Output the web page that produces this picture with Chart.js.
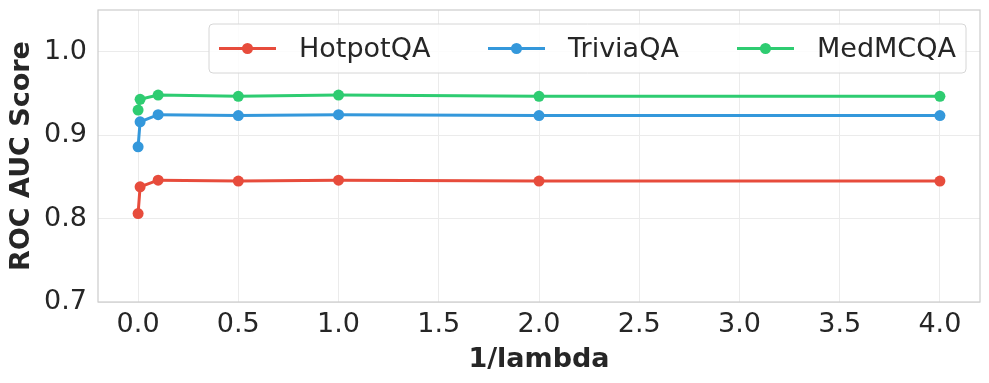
<!DOCTYPE html>
<html>
<head>
<meta charset="utf-8">
<script src="https://cdn.jsdelivr.net/npm/chart.js@4.4.0/dist/chart.umd.min.js"></script>
<style>
html,body{margin:0;padding:0;background:#fff;}
#wrap{width:989px;height:383px;position:relative;}
</style>
</head>
<body>
<div id="wrap"><canvas id="c" width="989" height="383"></canvas></div>
<script>
const xValues = [0, 0.01, 0.1, 0.5, 1.0, 2.0, 4.0];
const hotpotQA = [0.806, 0.838, 0.846, 0.845, 0.846, 0.845, 0.845];
const triviaQA = [0.886, 0.916, 0.9245, 0.9235, 0.9245, 0.9235, 0.9235];
const medMCQA = [0.930, 0.943, 0.948, 0.9465, 0.948, 0.9465, 0.9465];
const seriesNames = ['HotpotQA', 'TriviaQA', 'MedMCQA'];
const seriesColors = ['#e74c3c', '#3498db', '#2ecc71'];
const xTicks = [0, 0.5, 1.0, 1.5, 2.0, 2.5, 3.0, 3.5, 4.0];
const yTicks = [0.7, 0.8, 0.9, 1.0];

const FONT = 'DejaVu Sans';
const TXT = '#262626';
const GRID = '#ebebeb';
const FRAME = '#cccccc';

function mk(name, data, color) {
  return {
    label: name,
    data: xValues.map((x, i) => ({x: x, y: data[i]})),
    borderColor: color,
    backgroundColor: color,
    pointBackgroundColor: color,
    pointBorderColor: color,
    borderWidth: 3,
    pointRadius: 5.5,
    pointHoverRadius: 5.5,
    pointBorderWidth: 0,
    tension: 0,
    fill: false
  };
}

const frameAndLegend = {
  id: 'frameAndLegend',
  afterDraw(chart) {
    const ctx = chart.ctx;
    const a = chart.chartArea;
    ctx.save();
    ctx.strokeStyle = FRAME;
    ctx.lineWidth = 1.2;
    ctx.strokeRect(a.left, a.top, a.right - a.left, a.bottom - a.top);

    // legend
    ctx.font = '27px "' + FONT + '"';
    const lineLen = 57, textOff = 80;
    const itemX = [219, 488, 737];
    const cy = 48.5;
    const boxL = 209, boxR = 966, boxT = 24, boxB = 73;
    const r = 4;
    ctx.beginPath();
    ctx.moveTo(boxL + r, boxT);
    ctx.lineTo(boxR - r, boxT);
    ctx.quadraticCurveTo(boxR, boxT, boxR, boxT + r);
    ctx.lineTo(boxR, boxB - r);
    ctx.quadraticCurveTo(boxR, boxB, boxR - r, boxB);
    ctx.lineTo(boxL + r, boxB);
    ctx.quadraticCurveTo(boxL, boxB, boxL, boxB - r);
    ctx.lineTo(boxL, boxT + r);
    ctx.quadraticCurveTo(boxL, boxT, boxL + r, boxT);
    ctx.closePath();
    ctx.fillStyle = 'rgba(255,255,255,0.85)';
    ctx.fill();
    ctx.strokeStyle = '#d6d6d6';
    ctx.lineWidth = 1;
    ctx.stroke();

    chart.data.datasets.forEach((ds, i) => {
      const x = itemX[i];
      const c = ds.borderColor;
      ctx.strokeStyle = c;
      ctx.lineWidth = 3;
      ctx.beginPath();
      ctx.moveTo(x, cy);
      ctx.lineTo(x + lineLen, cy);
      ctx.stroke();
      ctx.fillStyle = c;
      ctx.beginPath();
      ctx.arc(x + lineLen / 2, cy, 5.5, 0, Math.PI * 2);
      ctx.fill();
      ctx.fillStyle = TXT;
      ctx.textBaseline = 'middle';
      ctx.textAlign = 'left';
      ctx.fillText(ds.label, x + textOff, cy + 1);
    });
    ctx.restore();
  }
};

new Chart(document.getElementById('c'), {
  type: 'line',
  data: {
    datasets: [
      mk(seriesNames[0], hotpotQA, seriesColors[0]),
      mk(seriesNames[1], triviaQA, seriesColors[1]),
      mk(seriesNames[2], medMCQA, seriesColors[2])
    ]
  },
  options: {
    responsive: false,
    animation: false,
    layout: {padding: {top: 10, right: 9, left: 0, bottom: 0}},
    plugins: {legend: {display: false}, tooltip: {enabled: false}},
    scales: {
      x: {
        type: 'linear',
        min: -0.2,
        max: 4.2,
        afterBuildTicks: (s) => { s.ticks = xTicks.map(v => ({value: v})); },
        afterFit: (s) => { s.height = 81; s.paddingLeft = 0; s.paddingRight = 0; },
        grid: {color: GRID, lineWidth: 1, drawTicks: false},
        border: {display: false},
        ticks: {
          color: TXT,
          font: {family: FONT, size: 27},
          padding: 7,
          maxRotation: 0,
          callback: (v) => Number(v).toFixed(1)
        },
        title: {
          display: true,
          text: '1/lambda',
          color: TXT,
          font: {family: FONT, size: 27, weight: 'bold'},
          padding: {top: 0, bottom: 7}
        }
      },
      y: {
        type: 'linear',
        min: 0.7,
        max: 1.05,
        afterBuildTicks: (s) => { s.ticks = yTicks.map(v => ({value: v})); },
        afterFit: (s) => { s.width = 98; s.paddingTop = 0; s.paddingBottom = 0; },
        grid: {color: GRID, lineWidth: 1, drawTicks: false},
        border: {display: false},
        ticks: {
          color: TXT,
          font: {family: FONT, size: 27},
          padding: 11,
          callback: (v) => Number(v).toFixed(1)
        },
        title: {
          display: true,
          text: 'ROC AUC Score',
          color: TXT,
          font: {family: FONT, size: 27, weight: 'bold'},
          padding: {top: 6, bottom: 0}
        }
      }
    }
  },
  plugins: [frameAndLegend]
});
</script>
</body>
</html>
